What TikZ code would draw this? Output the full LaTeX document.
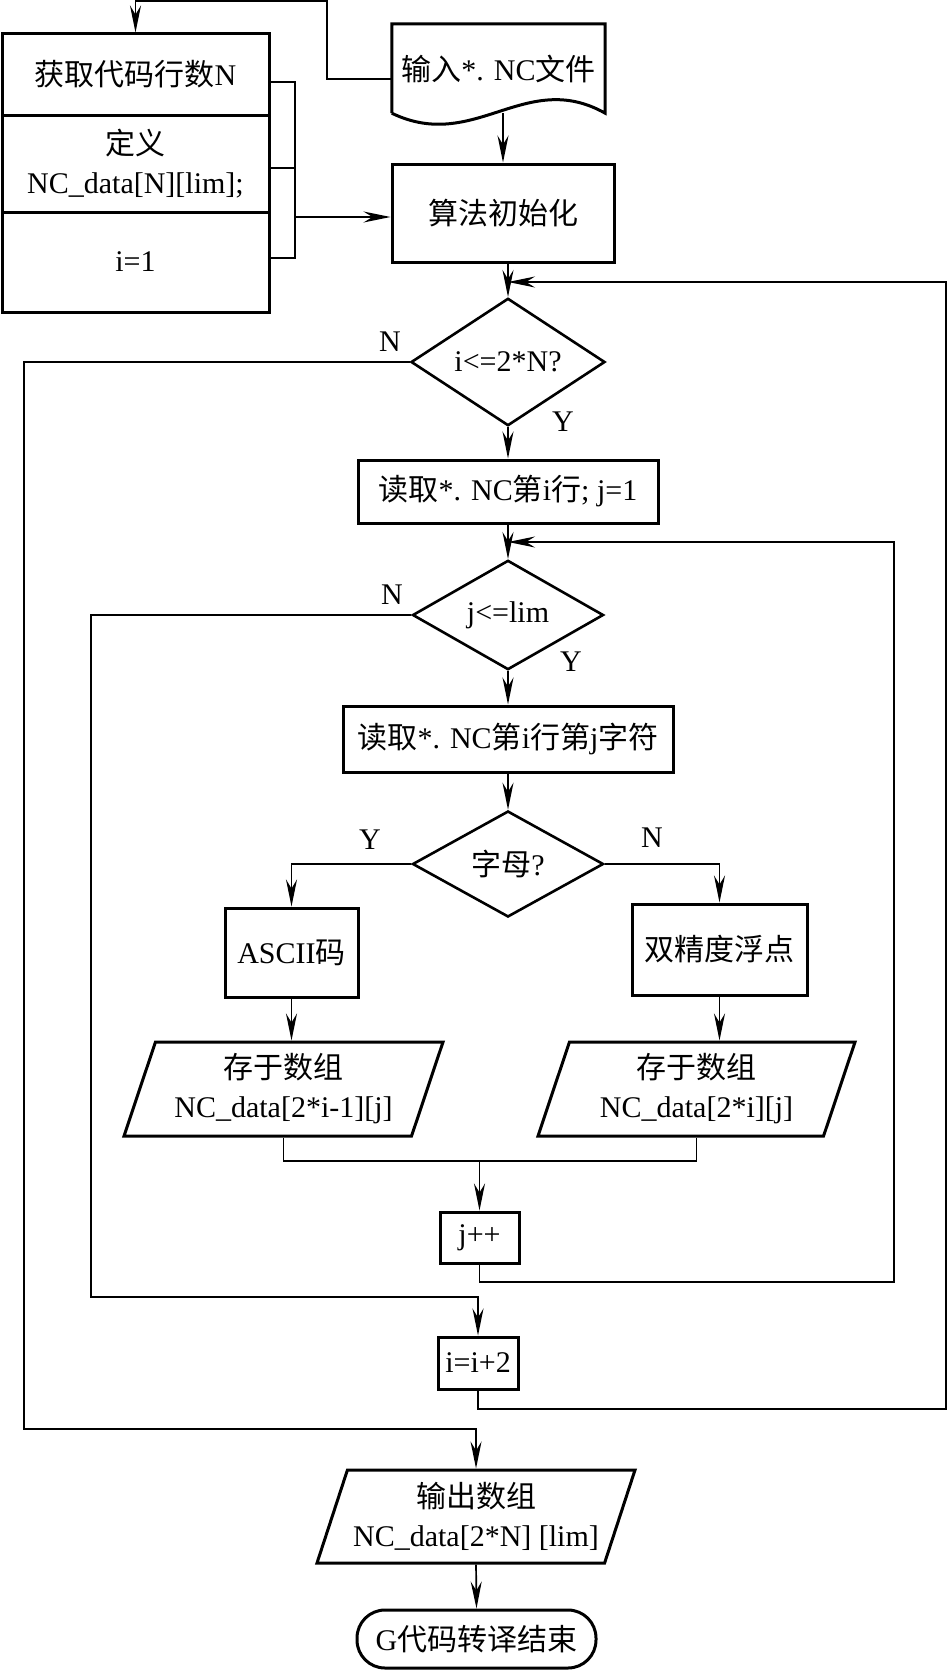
\documentclass[tikz,border=0pt]{standalone}
\usepackage{fontspec}
\setmainfont{Liberation Serif}
\newfontfamily\cjk{Noto Sans CJK SC}
\usetikzlibrary{shapes.geometric,arrows.meta}

\tikzset{
  box/.style={draw, line width=3pt, inner sep=0pt, align=center},
  decide/.style={draw, diamond, line width=2.6pt, inner sep=0pt, align=center},
  io/.style={draw, trapezium, trapezium left angle=66, trapezium right angle=114,
    trapezium stretches body, line width=3pt, inner sep=0pt, align=center},
  line/.style={line width=1.7pt},
  arr/.style={line, -{Stealth[length=27pt, width=11pt, inset=9pt]}}
}

\begin{document}
\begin{tikzpicture}[x=1pt, y=-1pt, font=\fontsize{30}{39}\selectfont]
  \useasboundingbox (0,0) rectangle (948,1670);

  \node[box, minimum width=267pt, minimum height=81pt] (row1) at (135.5,74.5) {{\cjk 获取代码行数}N};
  \node[box, minimum width=267pt, minimum height=97pt] (row2) at (135.5,163.5) {{\cjk 定义}\\NC\_data[N][lim];};
  \node[box, minimum width=267pt, minimum height=100pt] (row3) at (135.5,262) {i=1};

  \node[minimum width=213pt, minimum height=89pt, inner sep=0pt] (inp) at (498.5,68.5) {{\cjk 输入}*. NC{\cjk 文件}};
  \draw[line width=3pt] (inp.south west) -- (inp.north west) -- (inp.north east) -- (inp.south east)
    .. controls +(-80,-45) and +(83,40) .. (inp.south west);

  \node[box, minimum width=222pt, minimum height=98pt] (init) at (503,213) {{\cjk 算法初始化}};
  \node[decide, minimum width=194pt, minimum height=110pt] (d1) at (508,362) {i<=2*N?};
  \node[box, minimum width=300pt, minimum height=63pt] (rd1) at (508,491.5) {{\cjk 读取}*. NC{\cjk 第}i{\cjk 行}; j=1};
  \node[decide, minimum width=191pt, minimum height=106pt] (d2) at (508,615) {j<=lim};
  \node[box, minimum width=330pt, minimum height=66pt] (rd2) at (508,739) {{\cjk 读取}*. NC{\cjk 第}i{\cjk 行第}j{\cjk 字符}};
  \node[decide, minimum width=191pt, minimum height=106pt] (d3) at (508,864) {{\cjk 字母}?};
  \node[box, minimum width=133pt, minimum height=89pt] (ascii) at (291.5,952.5) {ASCII{\cjk 码}};
  \node[box, minimum width=175pt, minimum height=91pt] (dbl) at (719.5,949.5) {{\cjk 双精度浮点}};
  \node[io, minimum width=319pt, minimum height=94pt] (store1) at (283.5,1089) {{\cjk 存于数组}\\NC\_data[2*i-1][j]};
  \node[io, minimum width=317pt, minimum height=94pt] (store2) at (696.5,1089) {{\cjk 存于数组}\\NC\_data[2*i][j]};
  \node[box, minimum width=79pt, minimum height=51pt] (jpp) at (479.5,1237.5) {j++};
  \node[box, minimum width=80pt, minimum height=52pt] (ipp) at (478,1363) {i=i+2};
  \node[io, minimum width=318pt, minimum height=93pt] (out) at (476,1516.5) {{\cjk 输出数组}\\NC\_data[2*N] [lim]};
  \node[box, rounded corners=28pt, minimum width=239pt, minimum height=58pt] (endn) at (476.5,1639) {G{\cjk 代码转译结束}};

  \foreach \t/\x/\y [count=\k] in {N/390/342, Y/563/422, N/392/595, Y/571/662, Y/370/840, N/652/838}
    \node (lab\k) at (\x,\y) {\t};

  \coordinate (topturn) at (327,1);
  \coordinate (brk) at (295,217);
  \coordinate (merge) at (479.5,1161);
  \coordinate (jr) at (894,1282);
  \coordinate (jin) at (508,542);
  \coordinate (jl) at (91,1297);
  \coordinate (ir) at (946,1409);
  \coordinate (iin) at (508,282);
  \coordinate (il) at (24,1429);

  \draw[arr] ([yshift=-10.5pt]inp.west) -| (topturn) -| (row1.north);
  \draw[line] ([yshift=-7.5pt]row1.east) -| (brk) |- ([yshift=4pt]row3.east);
  \draw[line] ([yshift=-4.5pt]row2.east) -- ([yshift=-4.5pt]row2.east -| brk);
  \draw[arr] (brk) -- (brk -| init.west);
  \draw[arr] (inp.south -| init.north) -- (init.north);
  \draw[arr] (init.south -| d1.north) -- (d1.north);
  \draw[arr] (d1.south) -- (rd1.north);
  \draw[arr] (rd1.south) -- (d2.north);
  \draw[arr] (d2.south) -- (rd2.north);
  \draw[arr] (rd2.south) -- (d3.north);
  \draw[arr] (d3.west) -| (ascii.north);
  \draw[arr] (d3.east) -| (dbl.north);
  \draw[arr] (ascii.south) -- (ascii.south |- store1.north);
  \draw[arr] (dbl.south) -- (dbl.south |- store2.north);
  \draw[line] (store1.south) |- (merge) -| (store2.south);
  \draw[arr] (merge) -- (jpp.north);
  \draw[arr] (jpp.south) |- (jr) |- (jin);
  \draw[arr] (d2.west) -| (jl) -| (ipp.north);
  \draw[arr] (ipp.south) |- (ir) |- (iin);
  \draw[arr] (d1.west) -| (il) -| (out.north);
  \draw[arr] (out.south) -- (endn.north);
\end{tikzpicture}
\end{document}
